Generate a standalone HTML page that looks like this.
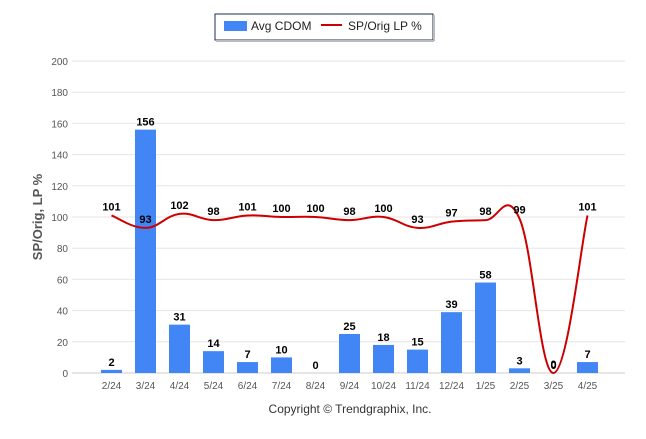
<!DOCTYPE html>
<html><head><meta charset="utf-8"><style>
body{margin:0;background:#fff;font-family:"Liberation Sans",Arial,sans-serif}
svg text{font-family:"Liberation Sans",Arial,sans-serif}
</style></head><body>
<svg id="c" width="646" height="434">
<g>
<rect x="215" y="14" width="218" height="26" fill="#fff" stroke="#1c2e55" stroke-width="1"/>
<line x1="216" y1="41" x2="434" y2="41" stroke="#bbb" stroke-width="2"/>
<line x1="434" y1="15" x2="434" y2="41" stroke="#bbb" stroke-width="2"/>
<rect x="224" y="21" width="23" height="10" fill="#4285f4"/>
<text x="251" y="30" font-size="12" fill="#222">Avg CDOM</text>
<line x1="321" y1="25" x2="342" y2="25" stroke="#c00" stroke-width="2"/>
<text x="348" y="30" font-size="12" fill="#222">SP/Orig LP %</text>
</g>
<text transform="translate(42,217) rotate(-90)" text-anchor="middle" font-size="13" font-weight="bold" fill="#555">SP/Orig, LP %</text>
<text x="350" y="413" text-anchor="middle" font-size="12" fill="#333">Copyright © Trendgraphix, Inc.</text>
<g id="grid"></g><g id="bars"></g><g id="line"></g><g id="labels"></g>
</svg>
<script>
const categories=["2/24","3/24","4/24","5/24","6/24","7/24","8/24","9/24","10/24","11/24","12/24","1/25","2/25","3/25","4/25"];
const cdom=[2,156,31,14,7,10,0,25,18,15,39,58,3,0,7];
const spPct=[101,93,102,98,101,100,100,98,100,93,97,98,99,0,101];
const yTicks=[0,20,40,60,80,100,120,140,160,180,200];
const NS="http://www.w3.org/2000/svg";
const x0=111.5,dx=34,yBase=373,yTop=61,yMax=200;
const X=i=>x0+i*dx, Y=v=>yBase-(v/yMax)*(yBase-yTop);
function mk(t,a,p){const e=document.createElementNS(NS,t);for(const k in a)e.setAttribute(k,a[k]);p.appendChild(e);return e;}
const grid=document.getElementById('grid'),bars=document.getElementById('bars'),line=document.getElementById('line'),labels=document.getElementById('labels');
yTicks.forEach(v=>{
 const l=mk('line',{x1:72,x2:625,y1:Y(v),y2:Y(v),stroke:v===0?'#ccc':'#e6e6e6'},grid);
 
 
 const t=mk('text',{x:68,y:Y(v)+4,'text-anchor':'end','font-size':'10',fill:'#555'},grid);t.textContent=v;
 
 
});
categories.forEach((c,i)=>{
 const t=mk('text',{x:X(i),y:389,'text-anchor':'middle','font-size':'10',fill:'#555'},grid);t.textContent=c;
 
 
 const b=mk('rect',{x:X(i)-10.5,y:Y(cdom[i]),width:21,height:yBase-Y(cdom[i]),fill:'#4285f4'},bars);
 
 
 const bl=mk('text',{x:X(i),y:Y(cdom[i])-4,'text-anchor':'middle','font-size':'11','font-weight':'bold',fill:'#000'},labels);bl.textContent=cdom[i];
 
 
 const ll=mk('text',{x:X(i),y:Y(spPct[i])-5,'text-anchor':'middle','font-size':'11','font-weight':'bold',fill:'#000'},labels);ll.textContent=spPct[i];
 
 
});
const pts=spPct.map((v,i)=>[X(i),Y(v)]);
let d='M'+pts[0][0]+','+pts[0][1];
const s=1.5;
for(let i=0;i<pts.length-1;i++){
 const p0=pts[Math.max(0,i-1)],p1=pts[i],p2=pts[i+1],p3=pts[Math.min(pts.length-1,i+2)];
 const c1=[p1[0]+(p2[0]-p0[0])/(2*(s+1)),p1[1]+(p2[1]-p0[1])/(2*(s+1))];
 const c2=[p2[0]-(p3[0]-p1[0])/(2*(s+1)),p2[1]-(p3[1]-p1[1])/(2*(s+1))];
 d+=` C${c1[0]},${c1[1]} ${c2[0]},${c2[1]} ${p2[0]},${p2[1]}`;
}
const path=mk('path',{d:d,fill:'none',stroke:'#c00','stroke-width':2},line);


</script>
</body></html>
